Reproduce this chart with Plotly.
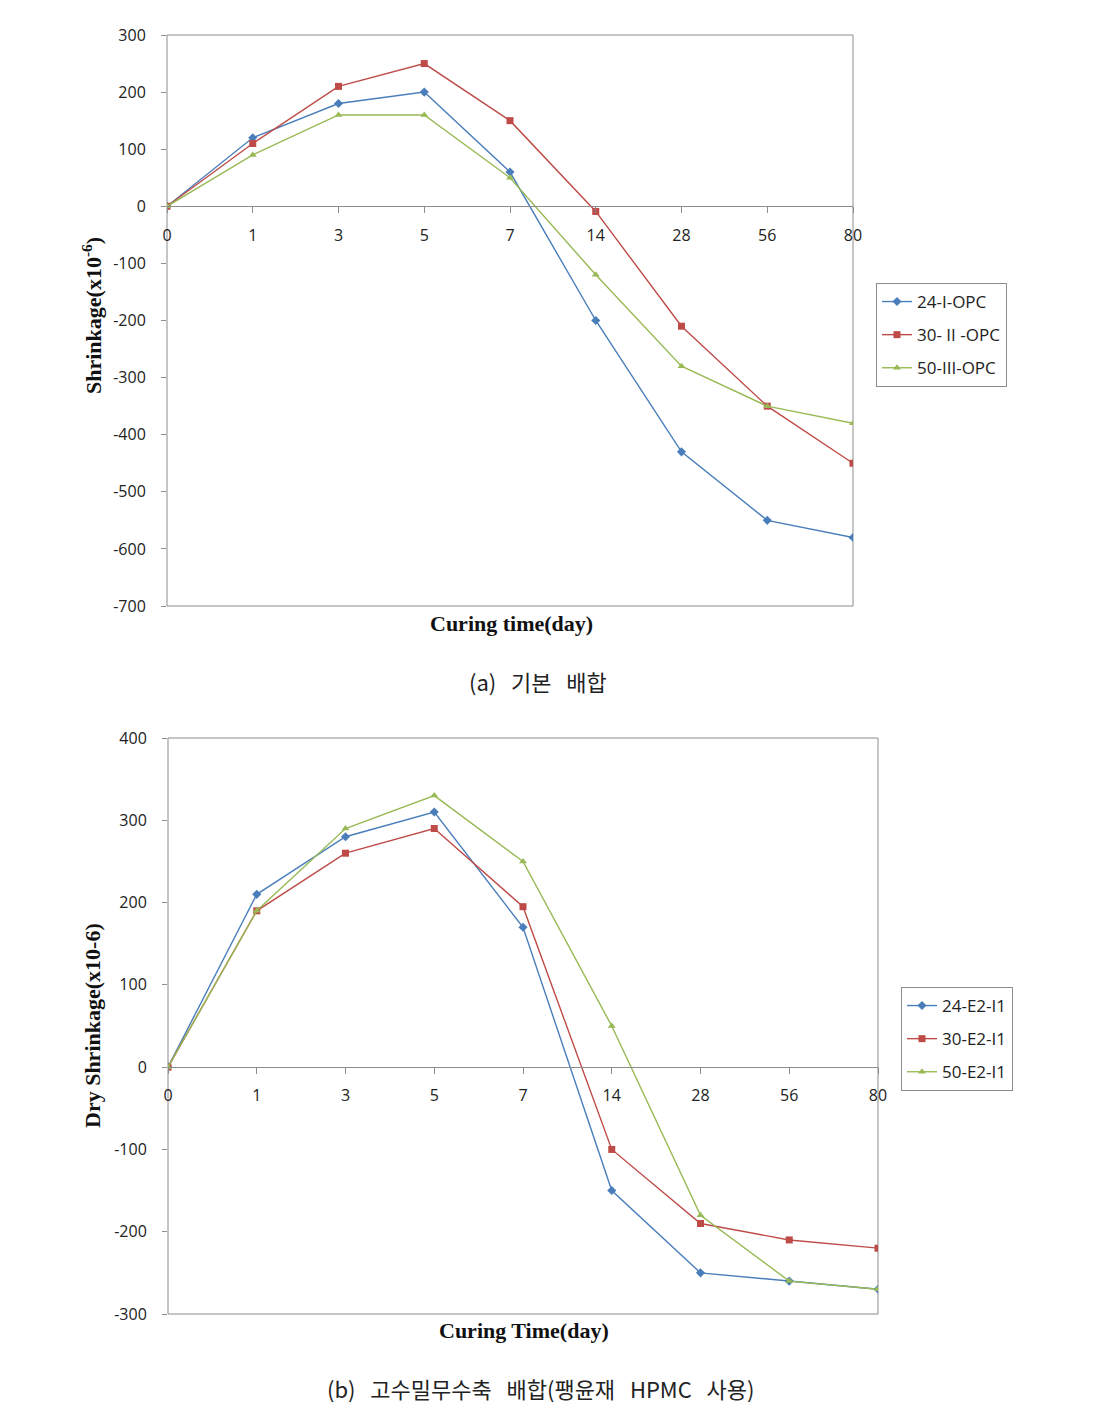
import plotly.graph_objects as go

# browser window and default page body margin
WIN_W, WIN_H, BODY = 1101, 1422, 8
W, H = WIN_W - 2 * BODY, WIN_H - 2 * BODY

days = ["0", "1", "3", "5", "7", "14", "28", "56", "80"]

# (a) basic mix
a_names = ["24-I-OPC", "30- II -OPC", "50-III-OPC"]
a_24 = [0, 120, 180, 200, 60, -200, -430, -550, -580]
a_30 = [0, 110, 210, 250, 150, -9, -210, -350, -450]
a_50 = [0, 90, 160, 160, 50, -120, -280, -350, -380]

# (b) high density non-shrink mix
b_names = ["24-E2-I1", "30-E2-I1", "50-E2-I1"]
b_24 = [0, 210, 280, 310, 170, -150, -250, -260, -270]
b_30 = [0, 190, 260, 290, 195, -100, -190, -210, -220]
b_50 = [0, 190, 290, 330, 250, 50, -180, -260, -270]

a_yticks = list(range(-700, 301, 100))
b_yticks = list(range(-300, 401, 100))
a_ytext = [str(v) for v in a_yticks]
b_ytext = [str(v) for v in b_yticks]

colors = ["#4A7EBB", "#BE4B48", "#98B954"]
symbols = ["diamond", "square", "triangle-up"]
msizes = [7, 7, 7]

def px_x(p):
    return (p - BODY) / W

def px_y(p):
    return 1 - (p - BODY) / H

# plot areas in window pixels
A = dict(x0=167, x1=853, y0=35, y1=606, ymin=-700, ymax=300)
B = dict(x0=168, x1=878, y0=738, y1=1314, ymin=-300, ymax=400)

def zero_pos(P):
    bot = px_y(P["y1"]); top = px_y(P["y0"])
    return bot + (0 - P["ymin"]) / (P["ymax"] - P["ymin"]) * (top - bot)

fig = go.Figure()

tick_font = dict(family="Open Sans, Noto Sans, sans-serif", size=16, color="#222")
grey = "#8C8C8C"

for i, (nm, ys) in enumerate(zip(a_names, [a_24, a_30, a_50])):
    fig.add_trace(go.Scatter(x=days, y=ys, name=nm, mode="lines+markers",
                             legendgroup="a%d" % i,
                             line=dict(color=colors[i], width=1.4),
                             marker=dict(symbol=symbols[i], size=msizes[i], color=colors[i]),
                             xaxis="x", yaxis="y", legend="legend"))
for i, (nm, ys) in enumerate(zip(b_names, [b_24, b_30, b_50])):
    fig.add_trace(go.Scatter(x=days, y=ys, name=nm, mode="lines+markers",
                             legendgroup="b%d" % i,
                             line=dict(color=colors[i], width=1.4),
                             marker=dict(symbol=symbols[i], size=msizes[i], color=colors[i]),
                             xaxis="x2", yaxis="y2", legend="legend2"))

def xaxis_cfg(P):
    return dict(domain=[px_x(P["x0"]), px_x(P["x1"])], type="category",
                categoryorder="array", categoryarray=days,
                range=[0, len(days) - 1], anchor="free", position=zero_pos(P),
                showline=True, linecolor=grey, linewidth=1, showgrid=False,
                ticks="outside", ticklen=6, tickcolor=grey, tickfont=tick_font,
                ticklabelstandoff=8, zeroline=False, fixedrange=True, automargin=False)

def yaxis_cfg(P, ticks, text, xname):
    return dict(domain=[px_y(P["y1"]), px_y(P["y0"])], range=[P["ymin"], P["ymax"]],
                tickvals=ticks, ticktext=text, showgrid=False, zeroline=False, showline=False,
                ticks="outside", ticklen=5, tickcolor=grey, tickfont=tick_font,
                anchor=xname, ticklabelstandoff=12, automargin=False)

leg_common = dict(xanchor="left", yanchor="top", bordercolor=grey, borderwidth=1,
                  bgcolor="white", font=dict(family="Open Sans, Noto Sans, sans-serif", size=17, color="#222"),
                  tracegroupgap=8, itemwidth=30)

fig.update_layout(
    width=W, height=H, margin=dict(l=0, r=0, t=0, b=0, pad=0, autoexpand=False),
    paper_bgcolor="white", plot_bgcolor="white",
    xaxis=xaxis_cfg(A), yaxis=yaxis_cfg(A, a_yticks, a_ytext, "x"),
    xaxis2=xaxis_cfg(B), yaxis2=yaxis_cfg(B, b_yticks, b_ytext, "x2"),
    legend=dict(x=px_x(876), y=px_y(283), **leg_common),
    legend2=dict(x=px_x(901), y=px_y(987), **leg_common),
    showlegend=True,
)

# plot area borders
for xr, yr in [("x domain", "y domain"), ("x2 domain", "y2 domain")]:
    fig.add_shape(type="rect", xref=xr, yref=yr, x0=0, x1=1, y0=0, y1=1,
                  line=dict(color=grey, width=1), layer="below")

title_font = dict(family="Liberation Serif, Times New Roman, serif", size=22, color="#111")
cap_font = dict(family="Noto Sans CJK KR, sans-serif", size=22, color="#222")

ann = [
    dict(x=px_x(511), y=px_y(623), text="<b>Curing time(day)</b>", font=title_font),
    dict(x=px_x(92), y=px_y(316), text="<b>Shrinkage(x10<sup>-6</sup>)</b>",
         font=title_font, textangle=-90),
    dict(x=px_x(524), y=px_y(1330), text="<b>Curing Time(day)</b>", font=title_font),
    dict(x=px_x(92), y=px_y(1026), text="<b>Dry Shrinkage(x10-6)</b>",
         font=title_font, textangle=-90),
    dict(x=px_x(538), y=px_y(681), text="(a)   기본   배합", font=cap_font),
    dict(x=px_x(540), y=px_y(1388), text="(b)   고수밀무수축   배합(팽윤재   HPMC   사용)", font=cap_font),
]
for a in ann:
    fig.add_annotation(xref="paper", yref="paper", showarrow=False,
                       xanchor="center", yanchor="middle", **a)

fig.write_html("out.html")
